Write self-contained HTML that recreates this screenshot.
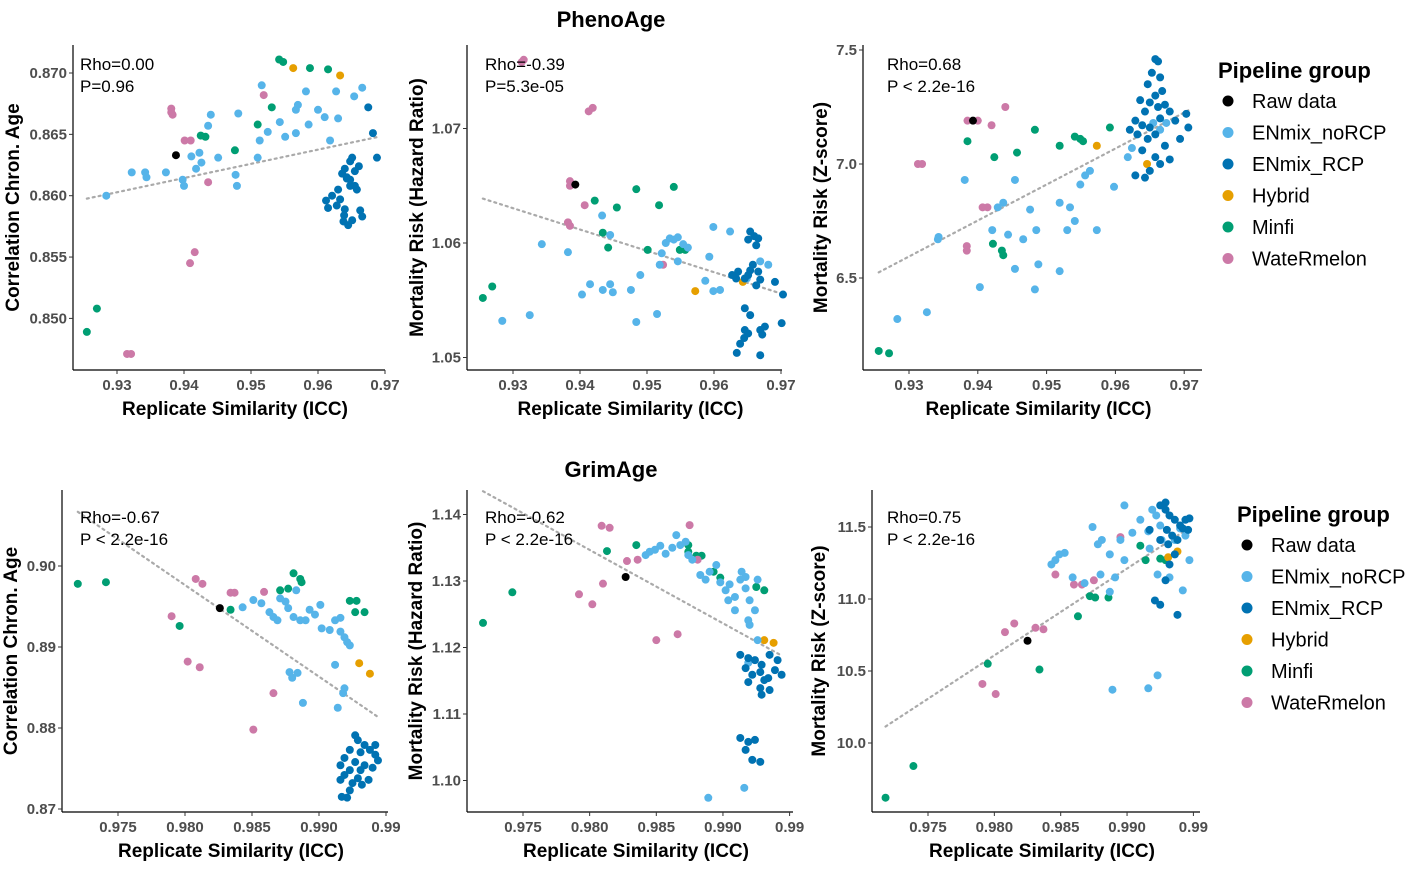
<!DOCTYPE html>
<html><head><meta charset="utf-8">
<style>
html,body{margin:0;padding:0;background:#fff;}
svg{display:block;font-family:"Liberation Sans",Arial,sans-serif;}
</style></head>
<body>
<svg id="chart" width="1417" height="873" viewBox="0 0 1417 873" xmlns="http://www.w3.org/2000/svg">
<text x="611" y="27" text-anchor="middle" font-size="22" font-weight="bold">PhenoAge</text>
<text x="611" y="477" text-anchor="middle" font-size="22" font-weight="bold">GrimAge</text>
<g id="legend1"></g>
<g id="legend2"></g>
</svg>
<script>
const groupNames = ["Raw data","ENmix_noRCP","ENmix_RCP","Hybrid","Minfi","WateRmelon"];
const groupColors = ["#000000","#56B4E9","#0072B2","#E69F00","#009E73","#CC79A7"];
const statsText = [["Rho=0.00","P=0.96"],["Rho=-0.39","P=5.3e-05"],["Rho=0.68","P < 2.2e-16"],["Rho=-0.67","P < 2.2e-16"],["Rho=-0.62","P < 2.2e-16"],["Rho=0.75","P < 2.2e-16"]];
const yTitles = ["Correlation Chron. Age","Mortality Risk (Hazard Ratio)","Mortality Risk (Z-score)","Correlation Chron. Age","Mortality Risk (Hazard Ratio)","Mortality Risk (Z-score)"];
const xTicksTop = [0.93,0.94,0.95,0.96,0.97];
const xTickLabelsTop = ["0.93","0.94","0.95","0.96","0.97"];
const xTicksBot = [0.975,0.98,0.985,0.99,0.995];
const xTickLabelsBot = ["0.975","0.980","0.985","0.990","0.99"];
const yTicks1 = [0.85,0.855,0.86,0.865,0.87];
const yTickLabels1 = ["0.850","0.855","0.860","0.865","0.870"];
const yTicks2 = [1.05,1.06,1.07];
const yTickLabels2 = ["1.05","1.06","1.07"];
const yTicks3 = [6.5,7.0,7.5];
const yTickLabels3 = ["6.5","7.0","7.5"];
const yTicks4 = [0.87,0.88,0.89,0.90];
const yTickLabels4 = ["0.87","0.88","0.89","0.90"];
const yTicks5 = [1.10,1.11,1.12,1.13,1.14];
const yTickLabels5 = ["1.10","1.11","1.12","1.13","1.14"];
const yTicks6 = [10.0,10.5,11.0,11.5];
const yTickLabels6 = ["10.0","10.5","11.0","11.5"];

// [ICC, value, group]
const p1 = [[.9388,.8633,0],
[.9381,.8671,5],[.9381,.8668,5],[.9383,.8666,5],[.9401,.8645,5],[.9410,.8645,5],[.9416,.8554,5],[.9409,.8545,5],[.9315,.8471,5],[.9321,.8471,5],[.9436,.8611,5],[.9519,.8682,5],
[.9270,.8508,4],[.9255,.8489,4],[.9542,.8711,4],[.9548,.8709,4],[.9588,.8704,4],[.9615,.8703,4],[.9531,.8672,4],[.9510,.8658,4],[.9425,.8649,4],[.9432,.8648,4],[.9476,.8637,4],
[.9563,.8704,3],[.9633,.8698,3],
[.9284,.8600,1],[.9322,.8619,1],[.9342,.8619,1],[.9344,.8615,1],[.9373,.8619,1],[.9398,.8613,1],[.9400,.8608,1],[.9411,.8632,1],[.9423,.8635,1],[.9436,.8657,1],[.9440,.8666,1],[.9451,.8631,1],[.9481,.8667,1],[.9479,.8608,1],[.9510,.8631,1],[.9513,.8645,1],[.9516,.8690,1],[.9525,.8652,1],[.9543,.8660,1],[.9551,.8648,1],[.9567,.8651,1],[.9570,.8674,1],[.9582,.8685,1],[.9600,.8670,1],[.9610,.8664,1],[.9630,.8663,1],[.9618,.8645,1],[.9627,.8685,1],[.9654,.8681,1],[.9666,.8688,1],[.9477,.8617,1],[.9418,.8622,1],[.9426,.8627,1],[.9567,.8670,1],[.9586,.8658,1],
[.9648,.8628,2],[.9640,.8622,2],[.9651,.8631,2],[.9621,.8600,2],[.9633,.8597,2],[.9628,.8592,2],[.9639,.8584,2],[.9651,.8580,2],[.9643,.8614,2],[.9648,.8608,2],[.9655,.8620,2],[.9661,.8624,2],[.9636,.8618,2],[.9643,.8615,2],[.9615,.8590,2],[.9640,.8589,2],[.9666,.8583,2],[.9663,.8588,2],[.9612,.8596,2],[.9648,.8613,2],[.9655,.8608,2],[.9675,.8672,2],[.9682,.8651,2],[.9688,.8631,2],[.9645,.8576,2],[.9638,.8579,2],[.9658,.8605,2],[.9630,.8605,2]];

const p2 = [[.9316,1.0760,5],[.9313,1.0758,5],[.9419,1.0718,5],[.9413,1.0715,5],[.9385,1.0654,5],[.9385,1.0650,5],[.9407,1.0633,5],[.9382,1.0618,5],[.9385,1.0615,5],[.9524,1.0581,5],
[.9393,1.0651,0],
[.9255,1.0552,4],[.9269,1.0562,4],[.9422,1.0637,4],[.9434,1.0609,4],[.9442,1.0596,4],[.9455,1.0631,4],[.9484,1.0647,4],[.9518,1.0633,4],[.9540,1.0649,4],[.9501,1.0594,4],[.9549,1.0594,4],[.9557,1.0594,4],
[.9572,1.0558,3],[.9643,1.0566,3],
[.9284,1.0532,1],[.9325,1.0537,1],[.9343,1.0599,1],[.9382,1.0592,1],[.9403,1.0555,1],[.9415,1.0564,1],[.9434,1.0559,1],[.9445,1.0564,1],[.9449,1.0557,1],[.9433,1.0624,1],[.9445,1.0607,1],[.9476,1.0559,1],[.9484,1.0531,1],[.9515,1.0538,1],[.9490,1.0572,1],[.9522,1.0591,1],[.9528,1.0600,1],[.9534,1.0604,1],[.9540,1.0603,1],[.9546,1.0605,1],[.9554,1.0599,1],[.9561,1.0596,1],[.9593,1.0588,1],[.9599,1.0614,1],[.9599,1.0558,1],[.9587,1.0567,1],[.9609,1.0559,1],[.9624,1.0610,1],[.9649,1.0569,1],[.9669,1.0584,1],[.9681,1.0581,1],[.9546,1.0584,1],[.9519,1.0581,1],
[.9654,1.0610,2],[.9660,1.0606,2],[.9666,1.0604,2],[.9651,1.0603,2],[.9663,1.0598,2],[.9627,1.0572,2],[.9636,1.0575,2],[.9646,1.0569,2],[.9654,1.0576,2],[.9658,1.0581,2],[.9651,1.0572,2],[.9633,1.0569,2],[.9666,1.0575,2],[.9669,1.0568,2],[.9663,1.0563,2],[.9691,1.0566,2],[.9703,1.0555,2],[.9646,1.0524,2],[.9651,1.0521,2],[.9645,1.0517,2],[.9639,1.0512,2],[.9634,1.0504,2],[.9669,1.0524,2],[.9676,1.0527,2],[.9672,1.0520,2],[.9646,1.0543,2],[.9701,1.0530,2],[.9669,1.0502,2],[.9654,1.0537,2]];

const p3 = [[.9256,6.18,4],[.9271,6.17,4],[.9385,7.10,4],[.9424,7.03,4],[.9457,7.05,4],[.9483,7.15,4],[.9519,7.08,4],[.9541,7.12,4],[.9549,7.11,4],[.9553,7.10,4],[.9592,7.16,4],[.9435,6.62,4],[.9437,6.60,4],[.9422,6.65,4],
[.9313,7.00,5],[.9319,7.00,5],[.9385,7.19,5],[.9400,7.19,5],[.9420,7.17,5],[.9440,7.25,5],[.9384,6.64,5],[.9384,6.62,5],[.9407,6.81,5],[.9414,6.81,5],
[.9393,7.19,0],
[.9573,7.08,3],[.9646,7.00,3],
[.9283,6.32,1],[.9326,6.35,1],[.9342,6.67,1],[.9343,6.68,1],[.9381,6.93,1],[.9403,6.46,1],[.9421,6.71,1],[.9429,6.81,1],[.9437,6.83,1],[.9454,6.93,1],[.9444,6.69,1],[.9454,6.54,1],[.9483,6.45,1],[.9488,6.56,1],[.9519,6.53,1],[.9530,6.71,1],[.9534,6.81,1],[.9541,6.75,1],[.9519,6.83,1],[.9549,6.91,1],[.9556,6.95,1],[.9563,6.97,1],[.9573,6.71,1],[.9598,6.90,1],[.9618,7.03,1],[.9624,7.07,1],[.9665,7.15,1],[.9655,7.18,1],[.9674,7.18,1],[.9485,6.71,1],[.9466,6.67,1],[.9476,6.80,1],
[.9658,7.46,2],[.9662,7.45,2],[.9653,7.40,2],[.9665,7.38,2],[.9647,7.35,2],[.9668,7.32,2],[.9658,7.30,2],[.9636,7.28,2],[.9650,7.27,2],[.9672,7.26,2],[.9662,7.25,2],[.9643,7.23,2],[.9679,7.23,2],[.9629,7.19,2],[.9639,7.17,2],[.9650,7.16,2],[.9665,7.20,2],[.9687,7.19,2],[.9621,7.15,2],[.9632,7.13,2],[.9647,7.11,2],[.9658,7.13,2],[.9703,7.22,2],[.9706,7.16,2],[.9694,7.11,2],[.9672,7.08,2],[.9679,7.02,2],[.9665,7.00,2],[.9650,6.97,2],[.9643,6.94,2],[.9629,6.95,2],[.9658,7.03,2],[.9639,7.06,2]];

const p4 = [[.9720,.8978,4],[.9741,.8980,4],[.9796,.8926,4],[.9834,.8946,4],[.9881,.8991,4],[.9886,.8984,4],[.9887,.8980,4],[.9877,.8972,4],[.9923,.8957,4],[.9928,.8957,4],[.9927,.8943,4],[.9934,.8943,4],[.9871,.8970,4],
[.9808,.8984,5],[.9813,.8978,5],[.9834,.8967,5],[.9837,.8967,5],[.9790,.8938,5],[.9802,.8882,5],[.9811,.8875,5],[.9866,.8843,5],[.9851,.8798,5],[.9859,.8968,5],
[.9826,.8948,0],
[.9930,.8880,3],[.9938,.8867,3],
[.9843,.8949,1],[.9851,.8958,1],[.9857,.8954,1],[.9863,.8943,1],[.9866,.8937,1],[.9869,.8933,1],[.9875,.8956,1],[.9877,.8948,1],[.9881,.8937,1],[.9886,.8933,1],[.9890,.8933,1],[.9893,.8946,1],[.9897,.8940,1],[.9901,.8952,1],[.9902,.8923,1],[.9908,.8921,1],[.9912,.8933,1],[.9916,.8936,1],[.9916,.8919,1],[.9919,.8912,1],[.9921,.8906,1],[.9923,.8902,1],[.9878,.8869,1],[.9880,.8862,1],[.9884,.8868,1],[.9888,.8831,1],[.9912,.8878,1],[.9919,.8849,1],[.9918,.8843,1],[.9914,.8825,1],[.9883,.8970,1],[.9871,.8960,1],
[.9927,.8791,2],[.9929,.8785,2],[.9934,.8779,2],[.9923,.8773,2],[.9931,.8770,2],[.9938,.8773,2],[.9942,.8767,2],[.9919,.8763,2],[.9927,.8758,2],[.9934,.8754,2],[.9916,.8754,2],[.9923,.8748,2],[.9931,.8748,2],[.9940,.8751,2],[.9919,.8742,2],[.9929,.8738,2],[.9937,.8736,2],[.9925,.8732,2],[.9916,.8736,2],[.9932,.8730,2],[.9923,.8723,2],[.9917,.8715,2],[.9921,.8714,2],[.9942,.8779,2],[.9944,.8760,2]];

const p5 = [[.9720,1.1237,4],[.9742,1.1283,4],[.9813,1.1345,4],[.9835,1.1354,4],[.9874,1.1344,4],[.9880,1.1338,4],[.9884,1.1338,4],[.9893,1.1314,4],[.9898,1.1305,4],[.9925,1.1291,4],[.9931,1.1286,4],[.9874,1.1354,4],
[.9809,1.1383,5],[.9815,1.1380,5],[.9792,1.1280,5],[.9802,1.1265,5],[.9810,1.1296,5],[.9828,1.1330,5],[.9836,1.1332,5],[.9850,1.1211,5],[.9866,1.1220,5],[.9875,1.1384,5],[.9881,1.1332,5],
[.9827,1.1306,0],
[.9931,1.1211,3],[.9938,1.1207,3],
[.9842,1.1339,1],[.9845,1.1344,1],[.9849,1.1347,1],[.9853,1.1353,1],[.9857,1.1341,1],[.9862,1.1350,1],[.9865,1.1369,1],[.9868,1.1354,1],[.9872,1.1359,1],[.9874,1.1339,1],[.9877,1.1332,1],[.9883,1.1309,1],[.9887,1.1302,1],[.9890,1.1314,1],[.9895,1.1324,1],[.9898,1.1298,1],[.9902,1.1286,1],[.9905,1.1295,1],[.9909,1.1276,1],[.9913,1.1302,1],[.9917,1.1289,1],[.9920,1.1271,1],[.9919,1.1241,1],[.9909,1.1256,1],[.9917,1.1306,1],[.9926,1.1302,1],[.9914,1.1314,1],[.9924,1.1256,1],[.9920,1.1234,1],[.9926,1.1211,1],[.9889,1.0974,1],[.9916,1.0989,1],[.9919,1.1177,1],[.9904,1.1271,1],
[.9913,1.1189,2],[.9919,1.1184,2],[.9924,1.1181,2],[.9929,1.1174,2],[.9935,1.1189,2],[.9941,1.1181,2],[.9917,1.1169,2],[.9922,1.1159,2],[.9928,1.1163,2],[.9934,1.1154,2],[.9939,1.1166,2],[.9944,1.1159,2],[.9919,1.1148,2],[.9928,1.1139,2],[.9935,1.1136,2],[.9929,1.1129,2],[.9913,1.1064,2],[.9919,1.1058,2],[.9924,1.1061,2],[.9917,1.1046,2],[.9922,1.1031,2],[.9928,1.1028,2],[.9931,1.1151,2]];

const p6 = [[.9718,9.62,4],[.9739,9.84,4],[.9795,10.55,4],[.9834,10.51,4],[.9863,10.88,4],[.9872,11.02,4],[.9876,11.01,4],[.9886,11.01,4],[.9914,11.27,4],[.9925,11.28,4],[.9929,11.27,4],[.9910,11.37,4],
[.9791,10.41,5],[.9801,10.34,5],[.9808,10.77,5],[.9815,10.83,5],[.9831,10.80,5],[.9837,10.79,5],[.9846,11.17,5],[.9860,11.10,5],[.9866,11.10,5],[.9875,11.13,5],[.9895,11.43,5],
[.9825,10.71,0],
[.9938,11.33,3],[.9931,11.29,3],
[.9843,11.24,1],[.9846,11.27,1],[.9849,11.31,1],[.9853,11.32,1],[.9859,11.15,1],[.9868,11.11,1],[.9874,11.50,1],[.9878,11.38,1],[.9881,11.41,1],[.9887,11.31,1],[.9891,11.15,1],[.9895,11.41,1],[.9898,11.27,1],[.9904,11.46,1],[.9910,11.55,1],[.9916,11.47,1],[.9919,11.62,1],[.9922,11.58,1],[.9925,11.51,1],[.9926,11.41,1],[.9917,11.35,1],[.9923,11.17,1],[.9932,11.15,1],[.9936,11.41,1],[.9940,11.49,1],[.9944,11.44,1],[.9947,11.27,1],[.9942,11.06,1],[.9889,10.37,1],[.9916,10.38,1],[.9923,10.47,1],[.9898,11.65,1],[.9887,11.05,1],[.9880,11.17,1],
[.9925,11.65,2],[.9929,11.62,2],[.9932,11.58,2],[.9936,11.55,2],[.9940,11.51,2],[.9944,11.55,2],[.9947,11.56,2],[.9930,11.48,2],[.9934,11.44,2],[.9938,11.41,2],[.9942,11.49,2],[.9925,11.41,2],[.9931,11.38,2],[.9936,11.31,2],[.9929,11.67,2],[.9946,11.48,2],[.9929,11.13,2],[.9925,10.96,2],[.9921,10.99,2],[.9938,10.89,2],[.9917,11.48,2],[.9932,11.24,2]];

const NS = "http://www.w3.org/2000/svg";
const svg = document.getElementById("chart");
function mk(tag, attrs, parent) {
  const e = document.createElementNS(NS, tag);
  for (const k in attrs) e.setAttribute(k, attrs[k]);
  (parent || svg).appendChild(e);
  return e;
}
// layout (pixel geometry) per panel
const panels = [
  {data:p1, xt:xTicksTop, xl:xTickLabelsTop, yt:yTicks1, yl:yTickLabels1, x0:117, xv0:0.93, xk:6700, y0:73, yv0:0.870, yk:12270, L:73, R:385, T:45, B:370, titleX:12, statX:80, statY:70},
  {data:p2, xt:xTicksTop, xl:xTickLabelsTop, yt:yTicks2, yl:yTickLabels2, x0:513, xv0:0.93, xk:6700, y0:243, yv0:1.06, yk:11450, L:467, R:782, T:45, B:370, titleX:416, statX:485, statY:70},
  {data:p3, xt:xTicksTop, xl:xTickLabelsTop, yt:yTicks3, yl:yTickLabels3, x0:909, xv0:0.93, xk:6880, y0:164, yv0:7.0, yk:228, L:863, R:1202, T:45, B:370, titleX:820, statX:887, statY:70},
  {data:p4, xt:xTicksBot, xl:xTickLabelsBot, yt:yTicks4, yl:yTickLabels4, x0:118, xv0:0.975, xk:13400, y0:566, yv0:0.90, yk:8100, L:62, R:388, T:490, B:812, titleX:10, statX:80, statY:523},
  {data:p5, xt:xTicksBot, xl:xTickLabelsBot, yt:yTicks5, yl:yTickLabels5, x0:523, xv0:0.975, xk:13330, y0:581, yv0:1.13, yk:6650, L:467, R:793, T:490, B:812, titleX:415, statX:485, statY:523},
  {data:p6, xt:xTicksBot, xl:xTickLabelsBot, yt:yTicks6, yl:yTickLabels6, x0:928, xv0:0.975, xk:13270, y0:599, yv0:11.0, yk:144, L:872, R:1200, T:490, B:812, titleX:818, statX:887, statY:523}
];
panels.forEach((p, i) => {
  const sx = v => p.x0 + (v - p.xv0) * p.xk;
  const sy = v => p.y0 - (v - p.yv0) * p.yk;
  const g = mk("g", {});
  
  
  // axes
  const ya = mk("line", {x1:p.L, y1:p.T, x2:p.L, y2:p.B, stroke:"#000", "stroke-width":1.2}, g);
  
  
  const xa = mk("line", {x1:p.L, y1:p.B, x2:p.R, y2:p.B, stroke:"#000", "stroke-width":1.2}, g);
  
  
  p.xt.forEach((v, j) => {
    const x = sx(v);
    mk("line", {x1:x, y1:p.B, x2:x, y2:p.B + 4, stroke:"#333", "stroke-width":1}, g);
    const t = mk("text", {x:x, y:p.B + 20, "text-anchor":"middle", "font-size":15, "font-weight":"bold", fill:"#4d4d4d"}, g);
    t.textContent = p.xl[j];
    
    
  });
  p.yt.forEach((v, j) => {
    const y = sy(v);
    mk("line", {x1:p.L - 4, y1:y, x2:p.L, y2:y, stroke:"#333", "stroke-width":1}, g);
    const t = mk("text", {x:p.L - 6, y:y + 5, "text-anchor":"end", "font-size":15, "font-weight":"bold", fill:"#4d4d4d"}, g);
    t.textContent = p.yl[j];
    
    
  });
  const xt = mk("text", {x:(p.L + p.R) / 2 + 6, y:p.B + 45, "text-anchor":"middle", "font-size":19, "font-weight":"bold"}, g);
  xt.textContent = "Replicate Similarity (ICC)";
  
  
  const cy = (p.T + p.B) / 2;
  const yt = mk("text", {x:p.titleX, y:cy, "text-anchor":"middle", "font-size":19, "font-weight":"bold", transform:"rotate(-90 " + p.titleX + " " + cy + ") translate(0 7)"}, g);
  yt.textContent = yTitles[i];
  
  
  // trend line (OLS)
  const n = p.data.length;
  let mx = 0, my = 0;
  p.data.forEach(d => { mx += d[0]; my += d[1]; });
  mx /= n; my /= n;
  let sxy = 0, sxx = 0, xmin = Infinity, xmax = -Infinity;
  p.data.forEach(d => { sxy += (d[0]-mx)*(d[1]-my); sxx += (d[0]-mx)*(d[0]-mx); xmin = Math.min(xmin, d[0]); xmax = Math.max(xmax, d[0]); });
  const b = sxy / sxx, a = my - b * mx;
  const tl = mk("line", {x1:sx(xmin), y1:sy(a + b*xmin), x2:sx(xmax), y2:sy(a + b*xmax), stroke:"#aaaaaa", "stroke-width":2.2, "stroke-dasharray":"2 4", "stroke-linecap":"round"}, g);
  
  
  p.data.forEach(d => {
    const c = mk("circle", {cx:sx(d[0]), cy:sy(d[1]), r:4, fill:groupColors[d[2]]}, g);
    
    
  });
  statsText[i].forEach((s, j) => {
    const t = mk("text", {x:p.statX, y:p.statY + j * 22, "font-size":17, fill:"#000"}, g);
    t.textContent = s;
    
    
  });
});
function legend(id, lx, ly) {
  const g = document.getElementById(id);
  const t = mk("text", {x:lx, y:ly, "font-size":22, "font-weight":"bold"}, g);
  t.textContent = "Pipeline group";
  
  
  groupNames.forEach((nm, k) => {
    const y = ly + 30 + k * 31.5;
    const c = mk("circle", {cx:lx + 10, cy:y - 7, r:5.5, fill:groupColors[k]}, g);
    
    
    const tx = mk("text", {x:lx + 34, y:y, "font-size":20}, g);
    tx.textContent = nm;
    
    
  });
}
legend("legend1", 1218, 78);
legend("legend2", 1237, 522);
</script>
</body></html>
